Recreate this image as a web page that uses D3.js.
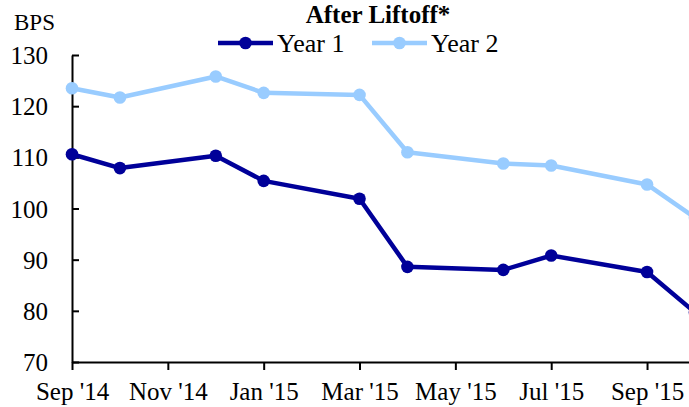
<!DOCTYPE html>
<html>
<head>
<meta charset="utf-8">
<script src="https://cdn.jsdelivr.net/npm/d3@7"></script>
<style>
  html, body { margin: 0; padding: 0; background: #fff; overflow: hidden; }
  svg { display: block; font-family: "Liberation Serif", "Times New Roman", serif; }
</style>
</head>
<body>
<svg id="chart" width="689" height="407"></svg>
<script>
// ---- data ----
const meetingDates = ["2014-09", "2014-10", "2014-12", "2015-01", "2015-03", "2015-04", "2015-06", "2015-07", "2015-09", "2015-10"];
const year1 = [110.6, 107.9, 110.3, 105.4, 101.9, 88.6, 88.0, 90.8, 87.6, 79.7];
const year2 = [123.5, 121.7, 125.8, 122.6, 122.2, 111.0, 108.8, 108.4, 104.7, 98.2];
const seriesNames = ["Year 1", "Year 2"];
const xTickDates = ["2014-09", "2014-11", "2015-01", "2015-03", "2015-05", "2015-07", "2015-09"];
const xTickLabels = ["Sep '14", "Nov '14", "Jan '15", "Mar '15", "May '15", "Jul '15", "Sep '15"];
const yTicks = [70, 80, 90, 100, 110, 120, 130];
const title = "After Liftoff*";
const yUnit = "BPS";

// ---- setup ----
const colors = ["#000099", "#99CCFF"];
const parse = d3.utcParse("%Y-%m");
const start = parse(meetingDates[0]);
const monthIdx = s => d3.utcMonth.count(start, parse(s));
const FONT = "Liberation Serif";
const FS = 25;

const svg = d3.select("#chart");

const x = d3.scaleLinear().domain([0, 13]).range([72, 72 + 13 * 47.92]);
const y = d3.scaleLinear().domain([70, 130]).range([362, 55]);

// y axis
const yAxis = svg.append("g").attr("transform", `translate(${x(0)},0)`)
  .call(d3.axisLeft(y).tickValues(yTicks).tickSize(-7).tickSizeOuter(0).tickPadding(0));
yAxis.select(".domain").attr("stroke", "#000").attr("stroke-width", 2);
yAxis.selectAll(".tick line").attr("stroke", "#000").attr("stroke-width", 2);
yAxis.selectAll(".tick text")
  .attr("font-size", FS).attr("font-family", FONT).attr("fill", "#000")
  .attr("x", -24).attr("dy", "0.34em");

// x axis
const xAxis = svg.append("g").attr("transform", `translate(0,${y(70)})`)
  .call(d3.axisBottom(x).tickValues(xTickDates.map(monthIdx))
    .tickFormat((d, i) => xTickLabels[i]).tickSize(8).tickSizeOuter(0).tickPadding(0));
xAxis.select(".domain").attr("stroke", "#000").attr("stroke-width", 2);
xAxis.selectAll(".tick line").attr("stroke", "#000").attr("stroke-width", 2);
xAxis.selectAll(".tick text")
  .attr("font-size", FS).attr("font-family", FONT).attr("fill", "#000")
  .attr("y", 38).attr("dy", 0);

// lines
const line = d3.line().x((d, i) => x(monthIdx(meetingDates[i]))).y(d => y(d));
[year1, year2].forEach((vals, k) => {
  const g = svg.append("g");
  g.append("path").datum(vals).attr("d", line)
    .attr("fill", "none").attr("stroke", colors[k]).attr("stroke-width", 4.5)
    .attr("stroke-linejoin", "round");
  g.selectAll("circle").data(vals).join("circle")
    .attr("cx", (d, i) => x(monthIdx(meetingDates[i])))
    .attr("cy", d => y(d)).attr("r", 6.3).attr("fill", colors[k]);
});

function addText(tx, ty, str, opts = {}) {
  return svg.append("text")
    .attr("x", tx).attr("y", ty)
    .attr("text-anchor", opts.anchor || "start")
    .attr("font-family", FONT)
    .attr("font-size", opts.size || FS)
    .attr("font-weight", opts.weight || "normal")
    .attr("fill", "#000")
    .text(str);
}

addText(378, 23, title, { anchor: "middle", weight: "bold", size: 25 });
addText(14, 30, yUnit, { size: 23 });

// legend
const legendX = [218, 372];
seriesNames.forEach((name, k) => {
  const lx = legendX[k], ly = 43;
  svg.append("line").attr("x1", lx).attr("x2", lx + 55).attr("y1", ly).attr("y2", ly)
    .attr("stroke", colors[k]).attr("stroke-width", 4.5);
  svg.append("circle").attr("cx", lx + 27.5).attr("cy", ly).attr("r", 6.3).attr("fill", colors[k]);
  addText(lx + 59, ly + 9, name, { size: 26 });
});
</script>
</body>
</html>
